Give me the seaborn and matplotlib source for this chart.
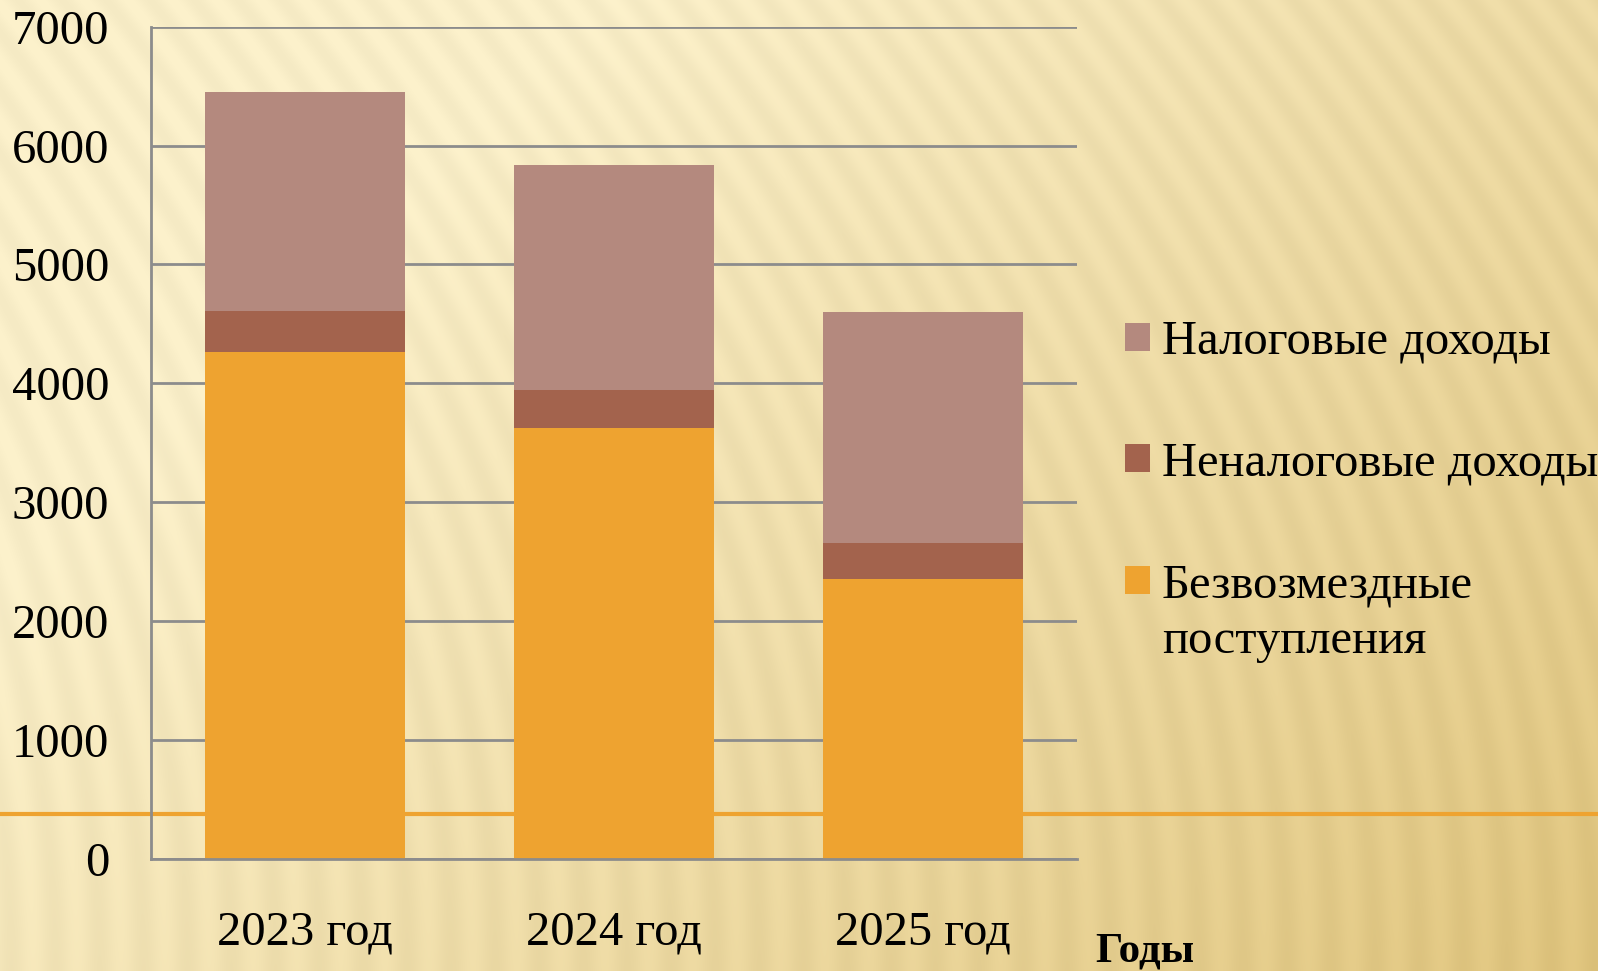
import numpy as np
import pandas as pd
import seaborn as sns
import matplotlib.pyplot as plt
from matplotlib.patches import Patch
from matplotlib.lines import Line2D

# data (stacked components)
years = ['2023 год', '2024 год', '2025 год']
tax = [1843, 1890, 1943]        # Налоговые доходы
nontax = [347, 325, 304]        # Неналоговые доходы
grants = [4260, 3620, 2355]     # Безвозмездные поступления

labels = ['Налоговые доходы', 'Неналоговые доходы', 'Безвозмездные']
colors = ['#B4897E', '#A3634D', '#EEA330']

df = pd.DataFrame({'year': years, 'tax': tax, 'nontax': nontax, 'grants': grants})
df['lower'] = df['nontax'] + df['grants']
df['total'] = df['tax'] + df['lower']

sns.set_theme(style='white')
plt.rcParams['font.family'] = ['Liberation Serif', 'DejaVu Serif']

fig = plt.figure(figsize=(15.98, 9.71), dpi=100)

# slide background: light-to-dark yellow gradient with faint stripes
bg = fig.add_axes([0, 0, 1, 1], zorder=-2)
h, w = 971, 1598
yy, xx = np.mgrid[0:h, 0:w]
t = np.clip(0.8 * xx / w + 0.5 * yy / h - 0.3, 0, 1)[..., None]
light = np.array([253, 242, 204]) / 255
dark = np.array([226, 199, 128]) / 255
img = light * (1 - t) + dark * t
stripes = 0.5 + 0.5 * np.sin((xx + 0.4 * (h - yy) * (1 - yy / h)) / 7.0)
img = np.clip(img - 0.03 * stripes[..., None], 0, 1)
bg.imshow(img, aspect='auto')
bg.axis('off')

# decorative orange rule across the slide
fig.add_artist(Line2D([0, 1], [1 - 814 / 971] * 2, transform=fig.transFigure,
                      color='#EEA330', lw=3, zorder=-1))

ax = fig.add_axes([0.0945, 0.1157, 0.5795, 0.8568], zorder=1)
ax.set_facecolor('none')

# stacked bars drawn as overlapping cumulative totals
for col, c in zip(['total', 'lower', 'grants'], colors):
    sns.barplot(data=df, x='year', y=col, color=c, width=0.648, saturation=1,
                linewidth=0, edgecolor='none', ax=ax)

ax.set_ylim(0, 7000)
ax.set_xlim(-0.5, 2.5)
ax.set_yticks(range(0, 7001, 1000))
ax.yaxis.grid(True, color='#8C8C8C', lw=2)
ax.set_axisbelow(True)
for s in ['top', 'right']:
    ax.spines[s].set_visible(False)
for s in ['left', 'bottom']:
    ax.spines[s].set_color('#8C8C8C')
    ax.spines[s].set_linewidth(2)
ax.tick_params(axis='y', labelsize=35, length=0, pad=30, labelcolor='black')
ax.tick_params(axis='x', labelsize=35, length=0, pad=37, labelcolor='black')
ax.set_ylabel('')
ax.set_xlabel('Годы', fontsize=31, fontweight='bold', color='black', ha='left', va='center')
ax.xaxis.set_label_coords(1.0195, -0.112)

handles = [Patch(facecolor=c, edgecolor='none') for c in colors]
fig.legend(handles, labels, loc='upper left', bbox_to_anchor=(0.704, 0.6706),
           frameon=False, fontsize=35, handlelength=0.51, handleheight=0.51,
           handletextpad=0.25, labelspacing=1.6, borderpad=0, borderaxespad=0,
           labelcolor='black')
# second line of the last legend label
fig.text(1162 / 1598, 1 - 641 / 971, 'поступления', fontsize=35, color='black',
         ha='left', va='center')

fig.savefig('out.png', dpi=100)
